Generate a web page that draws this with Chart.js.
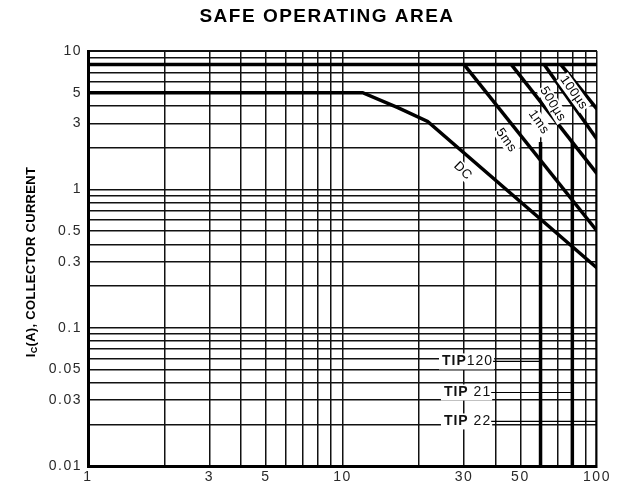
<!DOCTYPE html>
<html>
<head>
<meta charset="utf-8">
<title>Safe Operating Area</title>
<script src="https://cdn.jsdelivr.net/npm/chart.js@4.4.1/dist/chart.umd.min.js"></script>
<style>
  html, body { margin: 0; padding: 0; background: #fff; }
  #soa { display: block; }
</style>
</head>
<body>
<canvas id="soa" width="619" height="486"></canvas>
<script>
// grid / tick values
const xGrid = [1, 2, 3, 4, 5, 6, 7, 8, 9, 10, 20, 30, 40, 50, 60, 70, 80, 90, 100];
const yGrid = [0.01, 0.02, 0.03, 0.04, 0.05, 0.06, 0.07, 0.08, 0.09,
               0.1, 0.2, 0.3, 0.4, 0.5, 0.6, 0.7, 0.8, 0.9,
               1, 2, 3, 4, 5, 6, 7, 8, 9, 10];
const xLabels = [1, 3, 5, 10, 30, 50, 100];
const yLabels = [10, 5, 3, 1, 0.5, 0.3, 0.1, 0.05, 0.03, 0.01];

// curves (V_CE, I_C)
const vIcMax = [1, 100];
const iIcMax = [8, 8];
const vDC = [1, 12, 16.5, 21.6, 100];
const iDC = [5, 5, 3.9, 3.1, 0.27];
const v5ms = [30, 100];
const i5ms = [8, 0.5];
const v1ms = [46, 100];
const i1ms = [8, 1.3];
const v500us = [62, 100];
const i500us = [8, 2.3];
const v100us = [72, 100];
const i100us = [8, 3.8];

// BVceo limits for TIP120 / TIP121 / TIP122
const tipNames = ["TIP120", "TIP 21", "TIP 22"];
const vLimit = [60, 80, 100];
const iLimitTop = [2.2, 2.2, 3.8];
const tipLevel = [0.057, 0.034, 0.021];

// curve labels
const curveNames = ["DC", "5ms", "1ms", "500µs", "100µs"];
const curveLabelV = [29.7, 44, 59, 67, 81];
const curveLabelI = [1.36, 2.26, 3.06, 4.13, 5.0];

const pts = (vs, is) => vs.map((v, k) => ({ x: v, y: is[k] }));
const FONT = '"Liberation Sans", Arial, sans-serif';

function curveSet(vs, is) {
    return {
        data: pts(vs, is),
        borderColor: "#000",
        borderWidth: 3.5,
        pointRadius: 0,
        fill: false,
        tension: 0
    };
}

const datasets = [
    curveSet(vIcMax, iIcMax),
    curveSet(vDC, iDC),
    curveSet(v5ms, i5ms),
    curveSet(v1ms, i1ms),
    curveSet(v500us, i500us),
    curveSet(v100us, i100us)
];
vLimit.forEach((v, k) => {
    datasets.push(curveSet([v, v], [0.01, iLimitTop[k]]));
});

// segments used for label angle
const segs = [
    [vDC[3], iDC[3], vDC[4], iDC[4]],
    [v5ms[0], i5ms[0], v5ms[1], i5ms[1]],
    [v1ms[0], i1ms[0], v1ms[1], i1ms[1]],
    [v500us[0], i500us[0], v500us[1], i500us[1]],
    [v100us[0], i100us[0], v100us[1], i100us[1]]
];

const textPlugin = {
    id: "soaText",
    beforeDraw(chart) {
        // wide look of the scanned lettering
        chart.ctx.letterSpacing = "1.5px";
    },
    afterDatasetsDraw(chart) {
        const ctx = chart.ctx;
        const xs = chart.scales.x, ys = chart.scales.y;
        ctx.save();

        // curve labels, rotated along the lines
        ctx.letterSpacing = "0.5px";
        ctx.font = "13px " + FONT;
        ctx.textAlign = "center";
        ctx.textBaseline = "middle";
        curveNames.forEach((name, k) => {
            const s = segs[k];
            const dx = xs.getPixelForValue(s[2]) - xs.getPixelForValue(s[0]);
            const dy = ys.getPixelForValue(s[3]) - ys.getPixelForValue(s[1]);
            const px = xs.getPixelForValue(curveLabelV[k]);
            const py = ys.getPixelForValue(curveLabelI[k]);
            ctx.save();
            ctx.translate(px, py);
            ctx.rotate(Math.atan2(dy, dx) + 0.06);
            ctx.fillStyle = "#fff";
            const w = ctx.measureText(name).width;
            ctx.fillRect(-w / 2 - 1, -7, w + 2, 14);
            ctx.fillStyle = "#000";
            ctx.fillText(name, 0, 0);
            ctx.restore();
        });

        // TIP labels with leader lines
        ctx.letterSpacing = "1px";
        tipNames.forEach((name, k) => {
            const py = ys.getPixelForValue(tipLevel[k]);
            const cx = xs.getPixelForValue(31);
            const head = name.slice(0, 3), tail = name.slice(3);
            ctx.font = "bold 14px " + FONT;
            const w1 = ctx.measureText(head).width;
            ctx.font = "14px " + FONT;
            const w2 = ctx.measureText(tail).width;
            const left = cx - (w1 + w2) / 2;
            ctx.fillStyle = "#fff";
            ctx.fillRect(left - 3, py - 8, w1 + w2 + 4, 16);
            ctx.fillStyle = "#111";
            ctx.textAlign = "left";
            ctx.font = "bold 14px " + FONT;
            ctx.fillText(head, left, py);
            ctx.font = "14px " + FONT;
            ctx.fillText(tail, left + w1, py);
            ctx.strokeStyle = "#000";
            ctx.lineWidth = 1.2;
            ctx.beginPath();
            ctx.moveTo(left + w1 + w2, py);
            ctx.lineTo(xs.getPixelForValue(vLimit[k]), py);
            ctx.stroke();
        });

        // chart title
        ctx.letterSpacing = "1.5px";
        ctx.fillStyle = "#000";
        ctx.textAlign = "center";
        ctx.font = "bold 19px " + FONT;
        ctx.fillText("SAFE OPERATING AREA", 327, 17);

        // y axis title with subscript
        ctx.letterSpacing = "0.3px";
        ctx.translate(31, 262);
        ctx.rotate(-Math.PI / 2);
        ctx.textAlign = "left";
        const big = "bold 13px " + FONT, small = "bold 9px " + FONT;
        ctx.font = big;
        const a = ctx.measureText("I").width;
        const c = ctx.measureText("(A), COLLECTOR CURRENT").width;
        ctx.font = small;
        const b = ctx.measureText("C").width;
        const x0 = -(a + b + c) / 2;
        ctx.font = big;
        ctx.fillText("I", x0, 0);
        ctx.font = small;
        ctx.fillText("C", x0 + a, 4);
        ctx.font = big;
        ctx.fillText("(A), COLLECTOR CURRENT", x0 + a + b, 0);

        ctx.restore();
    },
    afterDraw(chart) {
        chart.ctx.letterSpacing = "0px";
    }
};

new Chart(document.getElementById("soa").getContext("2d"), {
    type: "line",
    data: { datasets: datasets },
    plugins: [textPlugin],
    options: {
        responsive: false,
        animation: false,
        layout: { padding: { left: 0, right: 22, top: 51, bottom: 0 } },
        plugins: {
            legend: { display: false },
            tooltip: { enabled: false },
            title: { display: false }
        },
        scales: {
            x: {
                type: "logarithmic",
                min: 1,
                max: 100,
                afterBuildTicks: s => { s.ticks = xGrid.map(v => ({ value: v })); },
                afterFit: s => { s.height = 20; },
                ticks: {
                    autoSkip: false,
                    maxRotation: 0,
                    padding: 3,
                    color: "#2a2a2a",
                    font: { family: FONT, size: 14 },
                    callback: v => xLabels.includes(v) ? String(v) : ""
                },
                grid: { color: "#111", lineWidth: 1.5, drawTicks: false },
                border: { color: "#000", width: 3 }
            },
            y: {
                type: "logarithmic",
                min: 0.01,
                max: 10,
                afterBuildTicks: s => { s.ticks = yGrid.map(v => ({ value: v })); },
                afterFit: s => { s.width = 88; },
                ticks: {
                    autoSkip: false,
                    padding: 6,
                    color: "#2a2a2a",
                    font: { family: FONT, size: 14 },
                    callback: v => yLabels.includes(v) ? String(v) : ""
                },
                grid: {
                    color: "#111",
                    lineWidth: c => (c.tick && c.tick.value === 10 ? 2 : 1.5),
                    drawTicks: false
                },
                border: { color: "#000", width: 3 }
            }
        }
    }
});
</script>
</body>
</html>
